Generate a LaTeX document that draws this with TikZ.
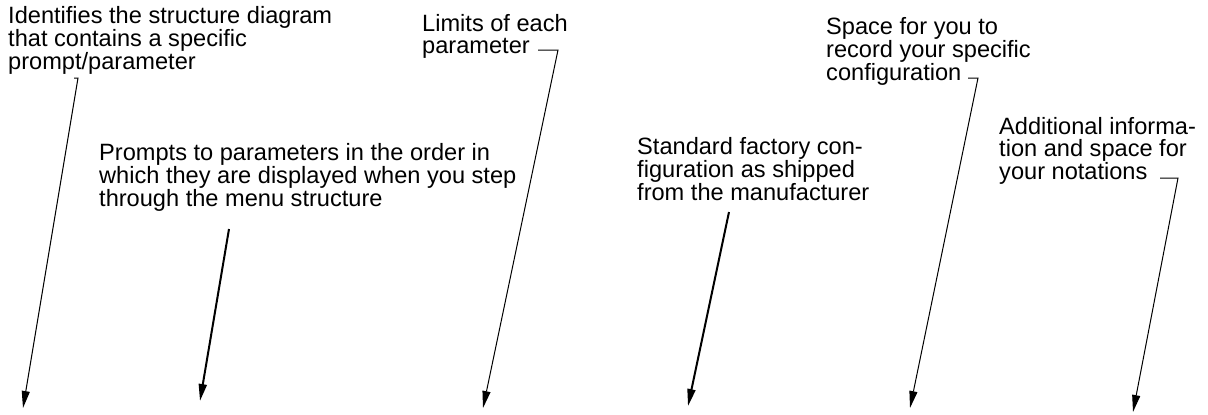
\documentclass[tikz,border=0pt]{standalone}
\usepackage{fontspec}
\setmainfont{Liberation Sans}
\usetikzlibrary{arrows.meta}
\begin{document}
\begin{tikzpicture}[x=1pt,y=-1pt,
  lbl/.style={anchor=base west,align=left,inner sep=0pt,font=\fontsize{23.6pt}{21.5pt}\selectfont},
  thinarrow/.style={line width=1pt,-{Triangle[length=17pt,width=8pt]}},
  thickarrow/.style={line width=2pt,-{Triangle[length=17pt,width=8pt]}}]
\useasboundingbox (0,0) rectangle (1208,415);
% labels (anchored at the baseline of the last line)
\node[lbl] (t1) at (8,69) {Identifies the structure diagram\\that contains a specific\\prompt/parameter};
\node[lbl] (t2) at (422,53) {Limits of each\\parameter};
\node[lbl] (t3) at (99,206) {Prompts to parameters in the order in\\which they are displayed when you step\\through the menu structure};
\node[lbl] (t4) at (637,200) {Standard factory con-\\figuration as shipped\\from the manufacturer};
\node[lbl] (t5) at (826,80) {Space for you to\\record your specific\\configuration};
\node[lbl] (t6) at (999,179) {Additional informa-\\tion and space for\\your notations};
% connector ends
\coordinate (a1s) at (74,78);  \coordinate (a1c) at (78,78);  \coordinate (a1e) at (23,408);
\coordinate (a2s) at (229,229); \coordinate (a2e) at (200,401);
\coordinate (a3s) at (538,50); \coordinate (a3c) at (558,50); \coordinate (a3e) at (483,408);
\coordinate (a4s) at (729,212); \coordinate (a4e) at (688,406);
\coordinate (a5s) at (968,78); \coordinate (a5c) at (978,78); \coordinate (a5e) at (910,408);
\coordinate (a6s) at (1160,178); \coordinate (a6c) at (1178,178); \coordinate (a6e) at (1133,412);
% connectors
\draw[thinarrow] (a1s) -- (a1c) -- (a1e);
\draw[thickarrow] (a2s) -- (a2e);
\draw[thinarrow] (a3s) -- (a3c) -- (a3e);
\draw[thickarrow] (a4s) -- (a4e);
\draw[thinarrow] (a5s) -- (a5c) -- (a5e);
\draw[thinarrow] (a6s) -- (a6c) -- (a6e);
\end{tikzpicture}
\end{document}
